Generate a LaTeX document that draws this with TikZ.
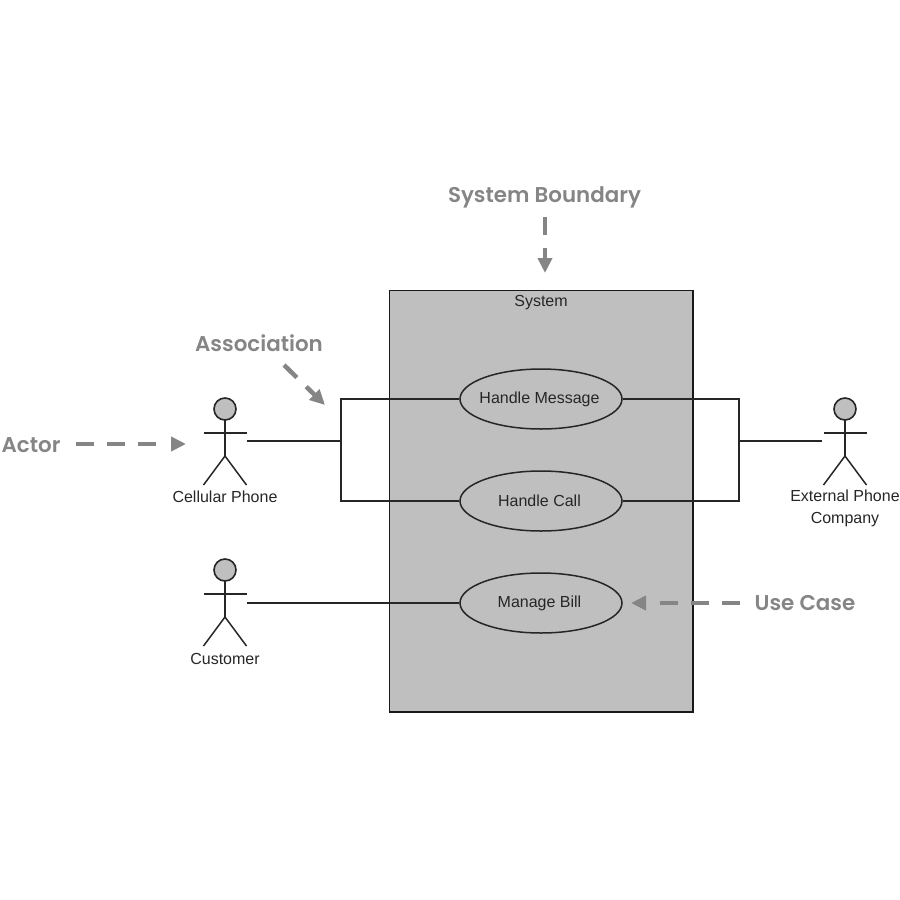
\documentclass[tikz,border=0pt]{standalone}
\usepackage{fontspec}
\setmainfont{Liberation Sans}
\newfontfamily\notefont{Poppins SemiBold}
\usetikzlibrary{arrows.meta,shapes.geometric,calc}
\tikzset{
  x=1pt,y=-1pt,
  line/.style={draw=black!85,line width=1.5pt},
  boundary/.style={draw=black!90,line width=1.6pt,fill=gray75,rectangle,minimum width=303.5pt,minimum height=421.5pt,inner sep=0pt},
  usecase/.style={ellipse,draw=black!85,line width=1.5pt,fill=gray75,minimum width=162pt,minimum height=60pt,inner sep=0pt,font=\fontsize{16}{18}\selectfont,text=black!85},
  head/.style={circle,draw=black!85,line width=1.6pt,fill=gray75,minimum size=22pt,inner sep=0pt},
  alabel/.style={align=center,font=\fontsize{16}{22}\selectfont,text=black!85,inner sep=0pt},
  note/.style={font=\notefont\fontsize{21.4}{26}\selectfont,text=notegray,inner sep=0pt},
  callout/.style={draw=notegray,line width=4.5pt,dash pattern=on 18pt off 13pt,-{Triangle[length=15pt,width=14pt]}},
  threedash/.style={dash pattern=on 18pt off 13pt on 18pt off 13pt on 18pt off 40pt},
}
\definecolor{gray75}{HTML}{BFBFBF}
\definecolor{notegray}{HTML}{858585}
\newcommand{\stickman}[3]{%
  \node[head] (#1) at (#2,#3) {};
  \coordinate (#1neck) at (#2,#3+11);
  \coordinate (#1hip) at (#2,#3+47);
  \coordinate (#1armL) at (#2-21.5,#3+24);
  \coordinate (#1armR) at (#2+21.5,#3+24);
  \coordinate (#1legL) at (#2-21.5,#3+76);
  \coordinate (#1legR) at (#2+21.5,#3+76);
  \draw[line] (#1neck) -- (#1hip);
  \draw[line] (#1armL) -- (#1armR);
  \draw[line] (#1legL) -- (#1hip) -- (#1legR);
}
\newcommand{\uctext}[1]{\raisebox{-1pt}{\makebox[0pt]{\hspace*{-3pt}#1}}}
\begin{document}
\begin{tikzpicture}
\useasboundingbox (0,0) rectangle (900,900);
\node[boundary] (sys) at (541.25,501.25) {};
\node[alabel,font=\fontsize{16}{18}\selectfont] (systitle) at (541,302.5) {System};

\node[usecase] (msg) at (541,399) {\uctext{Handle Message}};
\node[usecase] (call) at (541,501) {\uctext{Handle Call}};
\node[usecase] (bill) at (541,603) {\uctext{Manage Bill}};

\stickman{cell}{225}{409}
\stickman{ext}{845}{409}
\stickman{cust}{225}{570}

\node[alabel] (celllabel) at (225,497) {Cellular Phone};
\node[alabel] (extlabel) at (845,508) {External Phone\\Company};
\node[alabel] (custlabel) at (225,659) {Customer};

\coordinate (cellport) at (247,441);
\coordinate (extport) at (822,441);
\coordinate (custport) at (247,603);
\coordinate (jl) at (341,441);
\coordinate (jr) at (739,441);

\draw[line] (cellport) -- (jl);
\draw[line] (msg.west) -| (jl) |- (call.west);
\draw[line] (extport) -- (jr);
\draw[line] (msg.east) -| (jr) |- (call.east);
\draw[line] (custport) -- (bill.west);

\node[note] (nsb) at (544.5,197) {System Boundary};
\node[note] (nassoc) at (259,343) {Association};
\node[note] (nactor) at (31,445.5) {Actor};
\node[note] (nuse) at (805,603) {Use Case};

\coordinate (sbs) at (545,217);
\coordinate (sbe) at (545,273);
\coordinate (ass) at (284,365);
\coordinate (ase) at (325,405);
\coordinate (acs) at (76,444);
\coordinate (ace) at (186,444);
\coordinate (ucs) at (740,603);
\coordinate (uce) at (631,603);
\draw[callout] (sbs) -- (sbe);
\draw[callout] (ass) -- (ase);
\draw[callout,threedash] (acs) -- (ace);
\draw[callout,threedash] (ucs) -- (uce);
\end{tikzpicture}
\end{document}
